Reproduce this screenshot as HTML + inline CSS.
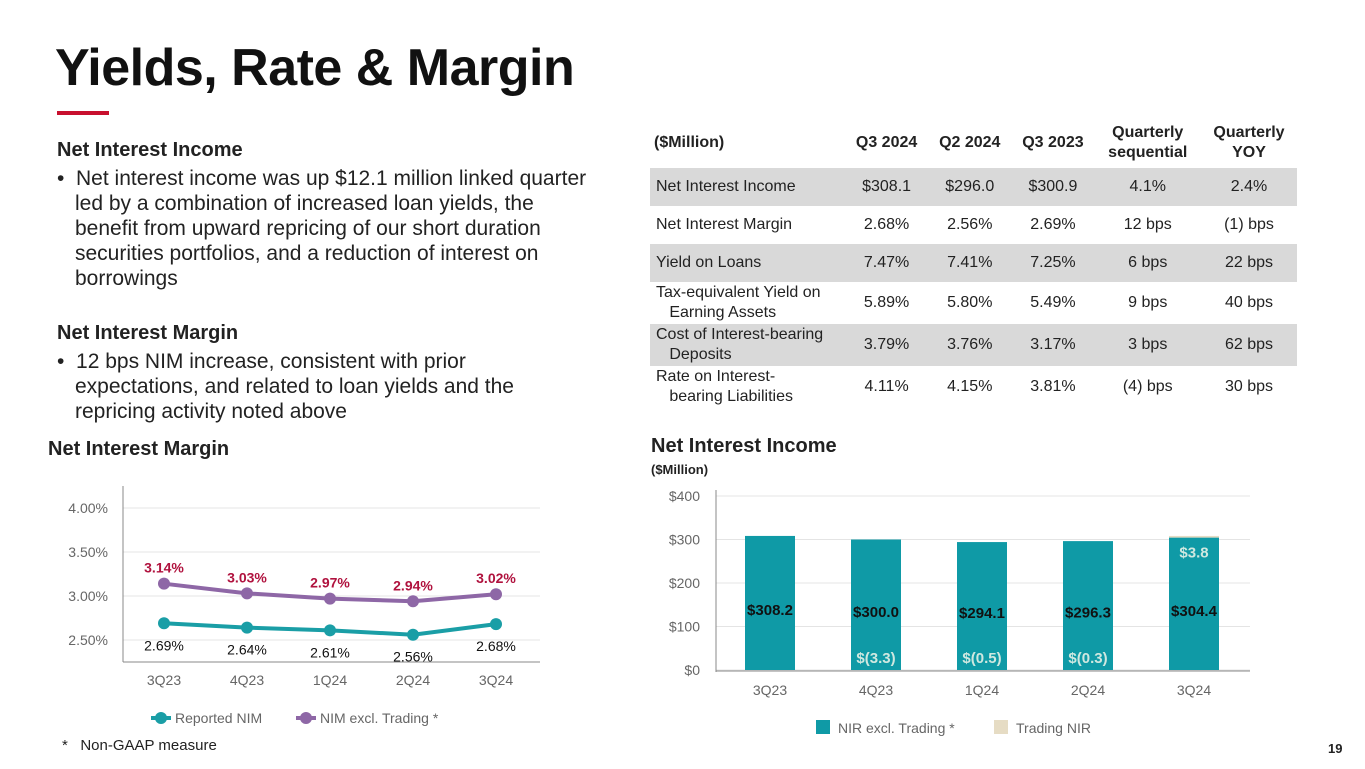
<!DOCTYPE html>
<html><head><meta charset="utf-8"><style>
body{margin:0;width:1365px;height:769px;background:#fff;font-family:"Liberation Sans",sans-serif;position:relative;overflow:hidden;color:#222}
.a{position:absolute}
h1{position:absolute;left:55px;top:38px;margin:0;font-size:52px;font-weight:bold;color:#111;letter-spacing:-0.5px}
.txt{font-size:19.5px;line-height:25px}
.txt b{display:block;font-size:20px}
.txt ul{margin:3px 0 0 0;padding:0;list-style:none}
.txt li{padding-left:18px;text-indent:-18px;white-space:nowrap;font-size:21px}
table{border-collapse:collapse;font-size:16px;color:#222}
td{padding:0;text-align:center}
td.l{text-align:left;padding-left:6px;line-height:20px}
tr.s td{background:#d9d9d9}
th{font-weight:bold;font-size:16px;text-align:center;line-height:20px}
</style></head><body>
<h1>Yields, Rate &amp; Margin</h1>
<div class="a" style="left:57px;top:111px;width:52px;height:4px;background:#c8102e"></div>
<div class="a txt" style="left:57px;top:138px;width:560px">
<b>Net Interest Income</b>
<ul><li>• &nbsp;Net interest income was up $12.1 million linked quarter<br>led by a combination of increased loan yields, the<br>benefit from upward repricing of our short duration<br>securities portfolios, and a reduction of interest on<br>borrowings</li></ul>
<div style="height:30px"></div>
<b>Net Interest Margin</b>
<ul><li>• &nbsp;12 bps NIM increase, consistent with prior<br>expectations, and related to loan yields and the<br>repricing activity noted above</li></ul>
</div>
<table class="a" style="left:650px;top:118px;width:647px">
<tr style="height:50px"><th style="text-align:left;padding-left:4px;width:190px">($Million)</th><th>Q3 2024</th><th>Q2 2024</th><th>Q3 2023</th><th>Quarterly<br>sequential</th><th>Quarterly<br>YOY</th></tr>
<tr class="s" style="height:38px"><td class="l">Net Interest Income</td><td>$308.1</td><td>$296.0</td><td>$300.9</td><td>4.1%</td><td>2.4%</td></tr>
<tr style="height:38px"><td class="l">Net Interest Margin</td><td>2.68%</td><td>2.56%</td><td>2.69%</td><td>12 bps</td><td>(1) bps</td></tr>
<tr class="s" style="height:38px"><td class="l">Yield on Loans</td><td>7.47%</td><td>7.41%</td><td>7.25%</td><td>6 bps</td><td>22 bps</td></tr>
<tr style="height:42px"><td class="l">Tax-equivalent Yield on<br>&nbsp;&nbsp;&nbsp;Earning Assets</td><td>5.89%</td><td>5.80%</td><td>5.49%</td><td>9 bps</td><td>40 bps</td></tr>
<tr class="s" style="height:42px"><td class="l">Cost of Interest-bearing<br>&nbsp;&nbsp;&nbsp;Deposits</td><td>3.79%</td><td>3.76%</td><td>3.17%</td><td>3 bps</td><td>62 bps</td></tr>
<tr style="height:42px"><td class="l">Rate on Interest-<br>&nbsp;&nbsp;&nbsp;bearing Liabilities</td><td>4.11%</td><td>4.15%</td><td>3.81%</td><td>(4) bps</td><td>30 bps</td></tr>
</table>
<div class="a" style="left:48px;top:438px;font-size:20px;font-weight:bold">Net Interest Margin</div>
<div class="a" style="left:651px;top:435px;font-size:20px;font-weight:bold">Net Interest Income</div>
<div class="a" style="left:651px;top:462px;font-size:13px;font-weight:bold">($Million)</div>
<div class="a" style="left:62px;top:737px;font-size:15px">* &nbsp;&nbsp;Non-GAAP measure</div>
<div class="a" style="left:1328px;top:741px;font-size:13px;font-weight:bold">19</div>
<svg class="a" style="left:0;top:0" width="1365" height="769" id="svg"></svg>
<script>
const nimCats=["3Q23","4Q23","1Q24","2Q24","3Q24"];
const reported=[2.69,2.64,2.61,2.56,2.68];
const exclTrading=[3.14,3.03,2.97,2.94,3.02];
const nimTicks=[2.5,3.0,3.5,4.0];
const niiCats=["3Q23","4Q23","1Q24","2Q24","3Q24"];
const niiExcl=[308.2,300.0,294.1,296.3,304.4];
const tradingNir=[0,-3.3,-0.5,-0.3,3.8];
const tradingLabels=["","$(3.3)","$(0.5)","$(0.3)","$3.8"];
const niiTicks=[0,100,200,300,400];

const svg=document.getElementById('svg');
const NS='http://www.w3.org/2000/svg';
function mk(tag,attrs,parent,text){const e=document.createElementNS(NS,tag);for(const k in attrs)e.setAttribute(k,attrs[k]);if(text!==undefined)e.textContent=text;(parent||svg).appendChild(e);return e;}
const ny=v=>640-(v-2.5)*88;
const nx=i=>164+i*83;
const g1=mk('g',{});


nimTicks.forEach(t=>{
  const l=mk('line',{x1:123,x2:540,y1:ny(t),y2:ny(t),stroke:'#e4e4e4','stroke-width':1},g1);
  
  
  const tx=mk('text',{x:108,y:ny(t)+5,'text-anchor':'end','font-size':14,fill:'#666'},g1,t.toFixed(2)+'%');
  
  
});
mk('line',{x1:123,x2:123,y1:486,y2:662,stroke:'#888'},g1);
mk('line',{x1:123,x2:540,y1:662,y2:662,stroke:'#888'},g1);
nimCats.forEach((c,i)=>{
  const t=mk('text',{x:nx(i),y:685,'text-anchor':'middle','font-size':14,fill:'#666'},g1,c);
  
  
});
function series(vals,color,name,labColor,above,bold){
  const p=mk('polyline',{points:vals.map((v,i)=>nx(i)+','+ny(v)).join(' '),fill:'none',stroke:color,'stroke-width':4},g1);
  
  
  vals.forEach((v,i)=>{
    const c=mk('circle',{cx:nx(i),cy:ny(v),r:6,fill:color},g1);
    
    
    const t=mk('text',{x:nx(i),y:above?ny(v)-11:ny(v)+27,'text-anchor':'middle','font-size':14,fill:labColor,'font-weight':bold?'bold':'normal'},g1,v.toFixed(2)+'%');
    
    
  });
}
series(reported,'#1a9ea6','reported-nim','#111',false,false);
series(exclTrading,'#8e67a6','nim-excl-trading','#b0123e',true,true);
const lg1=mk('g',{},g1);


mk('line',{x1:151,x2:171,y1:718,y2:718,stroke:'#1a9ea6','stroke-width':4},lg1);
mk('circle',{cx:161,cy:718,r:6,fill:'#1a9ea6'},lg1);
mk('text',{x:175,y:723,'font-size':14,fill:'#666'},lg1,'Reported NIM');
mk('line',{x1:296,x2:316,y1:718,y2:718,stroke:'#8e67a6','stroke-width':4},lg1);
mk('circle',{cx:306,cy:718,r:6,fill:'#8e67a6'},lg1);
mk('text',{x:320,y:723,'font-size':14,fill:'#666'},lg1,'NIM excl. Trading *');
const by=v=>670-v*0.435;
const bx=i=>770+i*106;
const bw=50;
const g2=mk('g',{});


niiTicks.forEach(t=>{
  const l=mk('line',{x1:716,x2:1250,y1:by(t),y2:by(t),stroke:'#e4e4e4'},g2);
  
  
  const tx=mk('text',{x:700,y:by(t)+5,'text-anchor':'end','font-size':14,fill:'#666'},g2,'$'+t);
  
  
});
mk('line',{x1:716,x2:716,y1:490,y2:672,stroke:'#888'},g2);
niiCats.forEach((c,i)=>{
  const r=mk('rect',{x:bx(i)-bw/2,y:by(niiExcl[i]),width:bw,height:niiExcl[i]*0.435,fill:'#0f9aa6'},g2);
  
  
  if(tradingNir[i]>0){
    const r2=mk('rect',{x:bx(i)-bw/2,y:by(niiExcl[i]+tradingNir[i]),width:bw,height:tradingNir[i]*0.435,fill:'#e6dcc4'},g2);
    
    
  }
  const t=mk('text',{x:bx(i),y:by(niiExcl[i]/2)+12,'text-anchor':'middle','font-size':15,'font-weight':'bold',fill:'#111'},g2,'$'+niiExcl[i].toFixed(1));
  
  
  if(tradingLabels[i]){
    const ty=tradingNir[i]>0?by(niiExcl[i])+20:663;
    const t2=mk('text',{x:bx(i),y:ty,'text-anchor':'middle','font-size':15,'font-weight':'bold',fill:'#cfe8e0'},g2,tradingLabels[i]);
    
    
  }
  const xl=mk('text',{x:bx(i),y:695,'text-anchor':'middle','font-size':14,fill:'#666'},g2,c);
  
  
});
mk('line',{x1:716,x2:1250,y1:671,y2:671,stroke:'#888'},g2);
const lg2=mk('g',{},g2);


mk('rect',{x:816,y:720,width:14,height:14,fill:'#0f9aa6'},lg2);
mk('text',{x:838,y:733,'font-size':14,fill:'#666'},lg2,'NIR excl. Trading *');
mk('rect',{x:994,y:720,width:14,height:14,fill:'#e6dcc4'},lg2);
mk('text',{x:1016,y:733,'font-size':14,fill:'#666'},lg2,'Trading NIR');
</script>
</body></html>
